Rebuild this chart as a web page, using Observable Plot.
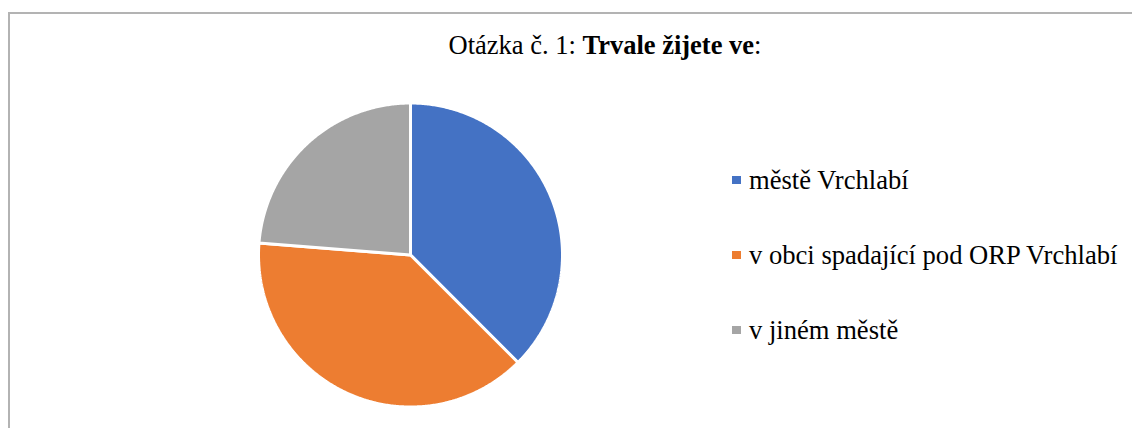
<!DOCTYPE html>
<html>
<head>
<meta charset="utf-8">
<script src="https://cdn.jsdelivr.net/npm/d3@7"></script>
<script src="https://cdn.jsdelivr.net/npm/@observablehq/plot@0.6"></script>
<style>
  html, body { margin: 0; padding: 0; background: #fff; }
  #wrap { position: relative; width: 1132px; height: 428px; overflow: hidden; font-family: "Liberation Serif", "Times New Roman", serif; color: #000; }
  #frame { position: absolute; left: 8px; top: 12px; width: 1200px; height: 500px; border-top: 2px solid #B3B3B3; border-left: 2px solid #B3B3B3; box-sizing: border-box; }
  #chart { position: absolute; left: 0; top: 0; }
  #title { position: absolute; left: 405px; width: 400px; top: 32px; text-align: center; font-family: "Liberation Serif", serif; font-size: 26.5px; line-height: 26.5px; white-space: nowrap; }
  .item { position: absolute; left: 732px; font-family: "Liberation Serif", serif; font-size: 26.6px; line-height: 26.6px; white-space: nowrap; }
  .sw { position: absolute; left: 0; width: 8.5px; height: 8.5px; }
  .lab { position: absolute; left: 17px; top: 0; font-family: "Liberation Serif", serif; }
</style>
</head>
<body>
<div id="wrap">
  <div id="frame"></div>
  <div id="chart"></div>
  <div id="title">Otázka č. 1: <b>Trvale žijete ve</b>:</div>
  <div id="legend"></div>
</div>
<script>
const categories = ["městě Vrchlabí", "v obci spadající pod ORP Vrchlabí", "v jiném městě"];
const values = [30, 31, 19];
const colors = ["#4472C4", "#ED7D31", "#A5A5A5"];

// build slice outlines (angles clockwise from 12 o'clock) from the values
const total = d3.sum(values);
const pts = [];
let acc = 0;
categories.forEach((name, i) => {
  const a0 = acc / total * 2 * Math.PI;
  acc += values[i];
  const a1 = acc / total * 2 * Math.PI;
  pts.push({name, x: 0, y: 0});
  const n = Math.max(2, Math.ceil((a1 - a0) / (Math.PI / 360)));
  for (let k = 0; k <= n; k++) {
    const a = a0 + (a1 - a0) * k / n;
    pts.push({name, x: Math.sin(a), y: Math.cos(a)});
  }
  pts.push({name, x: 0, y: 0});
});

const plot = Plot.plot({
  width: 1132,
  height: 428,
  marginLeft: 258,
  marginRight: 1132 - 562,
  marginTop: 102.5,
  marginBottom: 428 - 406.5,
  x: {domain: [-1, 1], axis: null},
  y: {domain: [-1, 1], axis: null},
  color: {domain: categories, range: colors},
  style: {background: "transparent"},
  marks: [
    Plot.line(pts, {x: "x", y: "y", z: "name", fill: "name", stroke: "white", strokeWidth: 3, strokeLinejoin: "miter", curve: "linear"})
  ]
});
document.getElementById("chart").appendChild(plot);

const legend = document.getElementById("legend");
const baselines = [189, 264, 339];
categories.forEach((name, i) => {
  const it = document.createElement("div");
  it.className = "item";
  it.style.top = (baselines[i] - 22.3) + "px";
  const sw = document.createElement("div");
  sw.className = "sw";
  sw.style.background = colors[i];
  sw.style.top = "9.3px";
  const lab = document.createElement("span");
  lab.className = "lab";
  lab.textContent = name;
  it.appendChild(sw);
  it.appendChild(lab);
  legend.appendChild(it);
});
</script>
</body>
</html>
